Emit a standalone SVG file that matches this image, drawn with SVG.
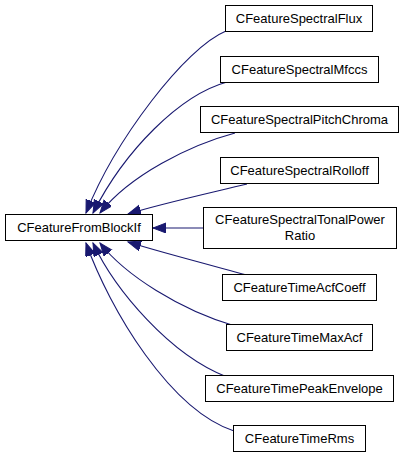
<svg xmlns="http://www.w3.org/2000/svg" width="404" height="459" viewBox="0 0 404 459">
<style>
.n rect{fill:#fff;stroke:#000;stroke-width:1}
.n text{font-family:"Liberation Sans",Arial,sans-serif;font-size:13px;text-anchor:middle;fill:#000}
.e path{fill:none;stroke:#191970;stroke-width:1.1}
</style>
<defs>
<marker id="ah" markerUnits="userSpaceOnUse" markerWidth="16" markerHeight="12" refX="13" refY="5" orient="auto">
<path d="M0,0 L13,5 L0,10 z" fill="#191970" stroke="#191970"/>
</marker>
</defs>
<rect width="404" height="459" fill="#fff"/>
<g id="edges" class="e">
<path d="M226,31 C185,48 115,140 86,213" marker-end="url(#ah)"/>
<path d="M227,82 C180,95 125,150 93,213" marker-end="url(#ah)"/>
<path d="M235,133 C190,145 130,175 100,213" marker-end="url(#ah)"/>
<path d="M247,184 C210,193 160,204 128,214" marker-end="url(#ah)"/>
<path d="M203,228 L153,228" marker-end="url(#ah)"/>
<path d="M247,275 C210,265 160,252 128,242" marker-end="url(#ah)"/>
<path d="M235,326 C180,310 125,275 100,243" marker-end="url(#ah)"/>
<path d="M227,377 C170,355 115,290 93,243" marker-end="url(#ah)"/>
<path d="M234,431 C170,410 110,310 86,243" marker-end="url(#ah)"/>
</g>
<g id="base" class="n"><rect x="5.5" y="214.5" width="147" height="26"/><text x="79" y="232">CFeatureFromBlockIf</text></g>
<g id="flux" class="n"><rect x="225.5" y="5.5" width="147" height="26"/><text x="299" y="23">CFeatureSpectralFlux</text></g>
<g id="mfccs" class="n"><rect x="220.5" y="56.5" width="158" height="26"/><text x="299.5" y="74">CFeatureSpectralMfccs</text></g>
<g id="pitch" class="n"><rect x="200.5" y="106.5" width="198" height="26"/><text x="299.5" y="124">CFeatureSpectralPitchChroma</text></g>
<g id="rolloff" class="n"><rect x="220.5" y="157.5" width="158" height="26"/><text x="299.5" y="175">CFeatureSpectralRolloff</text></g>
<g id="tonal" class="n"><rect x="203.5" y="207.5" width="193" height="41"/><text x="300" y="224">CFeatureSpectralTonalPower</text><text x="300" y="240">Ratio</text></g>
<g id="acf" class="n"><rect x="222.5" y="274.5" width="154" height="26"/><text x="299.5" y="292">CFeatureTimeAcfCoeff</text></g>
<g id="maxacf" class="n"><rect x="226.5" y="324.5" width="146" height="26"/><text x="299.5" y="342">CFeatureTimeMaxAcf</text></g>
<g id="peak" class="n"><rect x="205.5" y="375.5" width="188" height="26"/><text x="299.5" y="393">CFeatureTimePeakEnvelope</text></g>
<g id="rms" class="n"><rect x="233.5" y="425.5" width="132" height="26"/><text x="299.5" y="443">CFeatureTimeRms</text></g>
</svg>
